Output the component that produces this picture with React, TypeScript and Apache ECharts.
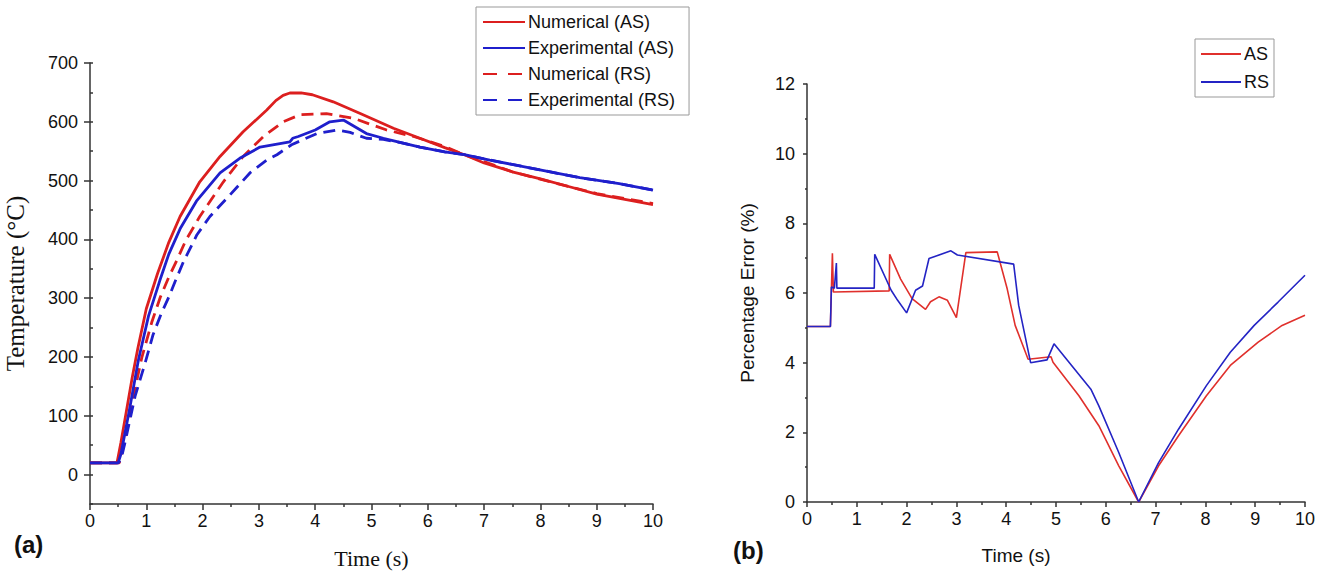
import React, { useEffect, useRef } from "react";
import * as echarts from "echarts";

// ---- Panel (a): Temperature (°C) vs Time (s) ----
const numericalAS: [number, number][] = [
  [0, 20], [0.48, 20], [0.55, 55], [0.65, 110], [0.75, 165], [0.85, 215], [1.0, 282],
  [1.2, 342], [1.4, 395], [1.6, 439], [1.95, 498], [2.31, 541], [2.72, 583], [3.14, 620],
  [3.3, 636], [3.43, 645], [3.55, 649], [3.75, 649], [3.95, 646], [4.32, 634], [4.8, 614],
  [5.39, 589], [5.86, 572], [6.3, 556], [6.65, 544], [7.0, 530], [7.5, 515], [8.0, 503],
  [8.5, 490], [9.0, 477], [9.5, 468], [10, 459],
];
const experimentalAS: [number, number][] = [
  [0, 20], [0.5, 20], [0.55, 35], [0.7, 110], [0.86, 195], [1.04, 270], [1.24, 330],
  [1.4, 375], [1.6, 418], [1.89, 465], [2.31, 513], [2.66, 538], [3.02, 557], [3.55, 566],
  [3.6, 572], [3.7, 575], [4.0, 586], [4.26, 600], [4.5, 603], [4.91, 580], [5.21, 572],
  [5.86, 557], [6.3, 549], [6.65, 544], [7.1, 535], [7.9, 520], [8.7, 505], [9.4, 495],
  [10, 484],
];
const numericalRS: [number, number][] = [
  [0, 20], [0.52, 20], [0.6, 50], [0.77, 133], [0.92, 199], [1.1, 260], [1.25, 302],
  [1.4, 336], [1.55, 366], [1.7, 398], [1.95, 439], [2.37, 498], [2.72, 541], [3.08, 575],
  [3.43, 600], [3.73, 612], [4.2, 614], [4.68, 606], [5.27, 586], [5.75, 575], [6.3, 558],
  [6.65, 544], [7.5, 515], [8.3, 495], [9.0, 478], [10, 461],
];
const experimentalRS: [number, number][] = [
  [0, 20], [0.5, 20], [0.55, 25], [0.62, 54], [0.8, 133], [0.98, 190], [1.12, 238],
  [1.27, 275], [1.4, 302], [1.51, 328], [1.66, 362], [1.9, 408], [2.13, 439], [2.49, 476],
  [2.84, 513], [3.14, 535], [3.32, 544], [3.58, 561], [4.03, 580], [4.38, 586], [4.62, 582],
  [4.91, 572], [5.21, 570], [5.5, 565], [5.86, 557], [6.3, 549], [6.65, 544], [7.1, 535],
  [7.9, 520], [8.7, 505], [9.4, 495], [10, 484],
];
const tempTickValues = [0, 100, 200, 300, 400, 500, 600, 700];

// ---- Panel (b): Percentage Error (%) vs Time (s) ----
const errorAS: [number, number][] = [
  [0, 5.04], [0.47, 5.04], [0.51, 7.14], [0.53, 6.03], [1.65, 6.06], [1.66, 7.11],
  [1.88, 6.4], [2.11, 5.84], [2.38, 5.53], [2.48, 5.75], [2.65, 5.89], [2.82, 5.79],
  [3.0, 5.29], [3.19, 7.16], [3.82, 7.18], [4.02, 6.12], [4.18, 5.07], [4.44, 4.1],
  [4.9, 4.17], [4.94, 4.01], [5.46, 3.05], [5.86, 2.19], [6.26, 1.04], [6.66, 0],
  [7.06, 1.04], [7.46, 1.9], [8.02, 3.05], [8.5, 3.92], [9.06, 4.59], [9.54, 5.07],
  [10, 5.36],
];
const errorRS: [number, number][] = [
  [0, 5.04], [0.47, 5.04], [0.49, 6.17], [0.55, 6.14], [0.59, 6.86], [0.6, 6.14],
  [1.35, 6.14], [1.36, 7.11], [1.69, 6.08], [1.82, 5.79], [2.0, 5.43], [2.18, 6.08],
  [2.32, 6.2], [2.45, 6.99], [2.89, 7.21], [3.02, 7.09], [4.15, 6.83], [4.25, 5.65],
  [4.49, 4.0], [4.82, 4.08], [4.96, 4.54], [5.7, 3.24], [5.86, 2.76], [6.26, 1.42],
  [6.66, 0], [7.06, 1.13], [7.46, 2.09], [8.02, 3.34], [8.5, 4.3], [8.98, 5.07],
  [9.46, 5.74], [10, 6.51],
];

const RED = "#dc1f1f";
const BLUE = "#1f1fcc";
const RED2 = "#e0302c";
const BLUE2 = "#2424c4";
const NARROW = "'Liberation Sans Narrow', 'Arial Narrow', 'Liberation Sans', Arial, sans-serif";
const SANS = "'Liberation Sans', Arial, sans-serif";
const SERIF = "'Liberation Serif', 'Times New Roman', serif";
const AXIS = "#333";
const DASH = [12, 7];
const LEGEND_DASH = [14, 11];

export default function App() {
  const ref = useRef<HTMLDivElement>(null);
  useEffect(() => {
    if (!ref.current) return;
    const chart = echarts.init(ref.current, null, { renderer: "svg" });
    const axisLine = { show: true, onZero: false, lineStyle: { color: AXIS, width: 1.5 } };
    const option: any = {
      animation: false,
      backgroundColor: "#fff",
      grid: [
        { left: 90, top: 63, width: 563, height: 441 },
        { left: 807, top: 84, width: 498, height: 418 },
      ],
      xAxis: [
        {
          gridIndex: 0, type: "value", min: 0, max: 10, interval: 1,
          axisLine, axisTick: { show: true, length: 6, lineStyle: { color: AXIS, width: 1.5 } },
          minorTick: { show: true, splitNumber: 2, length: 3, lineStyle: { color: AXIS, width: 1.5 } },
          splitLine: { show: false },
          axisLabel: { fontSize: 18, color: "#111", margin: 8, fontFamily: NARROW },
          name: "Time (s)", nameLocation: "middle", nameGap: 43,
          nameTextStyle: { fontFamily: SERIF, fontSize: 22, color: "#111" },
        },
        {
          gridIndex: 1, type: "value", min: 0, max: 10, interval: 1,
          axisLine, axisTick: { show: true, length: 5, lineStyle: { color: AXIS, width: 1.5 } },
          minorTick: { show: true, splitNumber: 2, length: 3, lineStyle: { color: AXIS, width: 1.5 } },
          splitLine: { show: false },
          axisLabel: { fontSize: 18, color: "#111", margin: 8, fontFamily: NARROW },
          name: "Time (s)", nameLocation: "middle", nameGap: 44,
          nameTextStyle: { fontFamily: SANS, fontSize: 19, color: "#111", padding: [0, 80, 0, 0] },
        },
      ],
      yAxis: [
        {
          gridIndex: 0, type: "value", min: -50, max: 700, interval: 50,
          axisLine,
          axisTick: { show: true, length: 6, customValues: tempTickValues, lineStyle: { color: AXIS, width: 1.5 } },
          axisLabel: { fontSize: 18, color: "#111", margin: 12, fontFamily: NARROW, customValues: tempTickValues },
          splitLine: { show: false },
          name: "Temperature (°C)", nameLocation: "middle", nameGap: 62,
          nameTextStyle: { fontFamily: SERIF, fontSize: 25, color: "#111" },
        },
        {
          gridIndex: 0, type: "value", min: -50, max: 700, interval: 50,
          axisLine: { show: false },
          axisTick: { show: true, length: 3, lineStyle: { color: AXIS, width: 1.5 } },
          axisLabel: { show: false },
          splitLine: { show: false },
        },
        {
          gridIndex: 1, type: "value", min: 0, max: 12, interval: 2,
          axisLine,
          axisTick: { show: true, length: 4, lineStyle: { color: AXIS, width: 1.5 } },
          minorTick: { show: true, splitNumber: 2, length: 2, lineStyle: { color: AXIS, width: 1.5 } },
          splitLine: { show: false },
          axisLabel: { fontSize: 18, color: "#111", margin: 12, fontFamily: NARROW },
          name: "Percentage Error (%)", nameLocation: "middle", nameGap: 50,
          nameTextStyle: { fontFamily: SANS, fontSize: 19, color: "#111" },
        },
      ],
      legend: [
        {
          data: [
            { name: "Numerical (AS)" },
            { name: "Experimental (AS)" },
            { name: "Numerical (RS)", lineStyle: { type: LEGEND_DASH } },
            { name: "Experimental (RS)", lineStyle: { type: LEGEND_DASH } },
          ],
          orient: "vertical", left: 476, top: 7, itemWidth: 42, itemHeight: 12, itemGap: 8,
          padding: [6, 14, 6, 6], borderColor: "#999", borderWidth: 1,
          itemStyle: { opacity: 0 },
          textStyle: { fontFamily: NARROW, fontSize: 18, color: "#111", padding: [0, 0, 0, -2] },
        },
        {
          data: ["AS", "RS"],
          orient: "vertical", left: 1195, top: 39, itemWidth: 40, itemHeight: 12, itemGap: 10,
          padding: [6, 5, 6, 5], borderColor: "#999", borderWidth: 1,
          itemStyle: { opacity: 0 },
          textStyle: { fontFamily: NARROW, fontSize: 18, color: "#111", padding: [0, 0, 0, -2] },
        },
      ],
      graphic: [
        { type: "text", left: 14, top: 532, style: { text: "(a)", fontFamily: SANS, fontWeight: "bold", fontSize: 24, fill: "#111" } },
        { type: "text", left: 733, top: 538, style: { text: "(b)", fontFamily: SANS, fontWeight: "bold", fontSize: 24, fill: "#111" } },
      ],
      series: [
        { name: "Numerical (AS)", type: "line", xAxisIndex: 0, yAxisIndex: 0, data: numericalAS, symbol: "none", lineStyle: { color: RED, width: 2.8 }, itemStyle: { color: RED }, z: 4 },
        { name: "Experimental (AS)", type: "line", xAxisIndex: 0, yAxisIndex: 0, data: experimentalAS, symbol: "none", lineStyle: { color: BLUE, width: 2.8 }, itemStyle: { color: BLUE }, z: 4 },
        { name: "Numerical (RS)", type: "line", xAxisIndex: 0, yAxisIndex: 0, data: numericalRS, symbol: "none", lineStyle: { color: RED, width: 2.8, type: DASH }, itemStyle: { color: RED }, z: 3 },
        { name: "Experimental (RS)", type: "line", xAxisIndex: 0, yAxisIndex: 0, data: experimentalRS, symbol: "none", lineStyle: { color: BLUE, width: 2.8, type: DASH }, itemStyle: { color: BLUE }, z: 3 },
        { name: "AS", type: "line", xAxisIndex: 1, yAxisIndex: 2, data: errorAS, symbol: "none", lineStyle: { color: RED2, width: 1.6 }, itemStyle: { color: RED2 } },
        { name: "RS", type: "line", xAxisIndex: 1, yAxisIndex: 2, data: errorRS, symbol: "none", lineStyle: { color: BLUE2, width: 1.6 }, itemStyle: { color: BLUE2 } },
      ],
    };
    chart.setOption(option);
    return () => chart.dispose();
  }, []);
  return (
    <div
      ref={ref}
      style={{ position: "fixed", left: 0, top: 0, width: 1324, height: 577, background: "#fff" }}
    />
  );
}
